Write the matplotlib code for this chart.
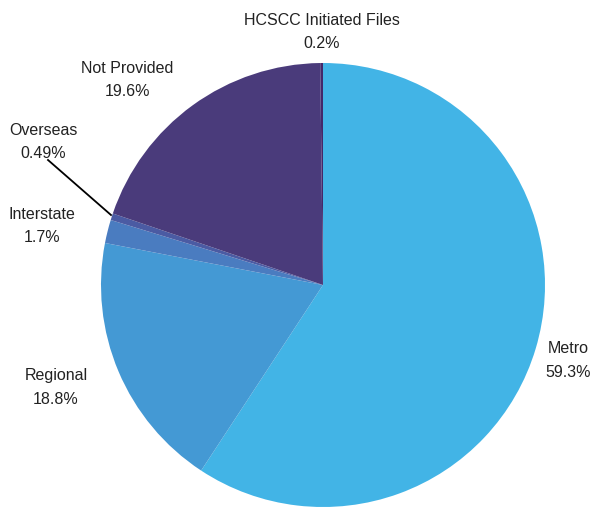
import matplotlib
matplotlib.use("Agg")
import matplotlib.pyplot as plt

labels = ["Metro", "Regional", "Interstate", "Overseas", "Not Provided", "HCSCC Initiated Files"]
values = [59.3, 18.8, 1.7, 0.49, 19.6, 0.2]
pct_labels = ["59.3%", "18.8%", "1.7%", "0.49%", "19.6%", "0.2%"]
colors = ["#42b4e6", "#4499d4", "#4a7cc0", "#4b5ba3", "#4a3b7b", "#43286a"]

W, H = 593, 507
fig = plt.figure(figsize=(W / 100, H / 100), dpi=100)
ax = fig.add_axes([0, 0, 1, 1])
ax.set_xlim(0, W)
ax.set_ylim(0, H)
ax.set_aspect("equal")
ax.axis("off")

cx, cy, r = 323, H - 285, 222
ax.pie(values, colors=colors, startangle=90, counterclock=False,
       center=(cx, cy), radius=r, normalize=True,
       wedgeprops=dict(linewidth=0))
ax.set_xlim(0, W)
ax.set_ylim(0, H)

label_pos = {
    "Metro": (568, 360.5),
    "Regional": (56, 387.5),
    "Interstate": (42, 226),
    "Overseas": (43, 142),
    "Not Provided": (127, 80),
    "HCSCC Initiated Files": (322, 32),
}
for lab, pct in zip(labels, pct_labels):
    x, y = label_pos[lab]
    ax.text(x, H - y, f"{lab}\n{pct}", ha="center", va="center",
            fontsize=11.5, family="Liberation Sans", color="#222222",
            linespacing=1.7)

ax.plot([48, 111], [H - 160, H - 215], color="black", linewidth=1.3)

fig.savefig("out.png", dpi=100)
